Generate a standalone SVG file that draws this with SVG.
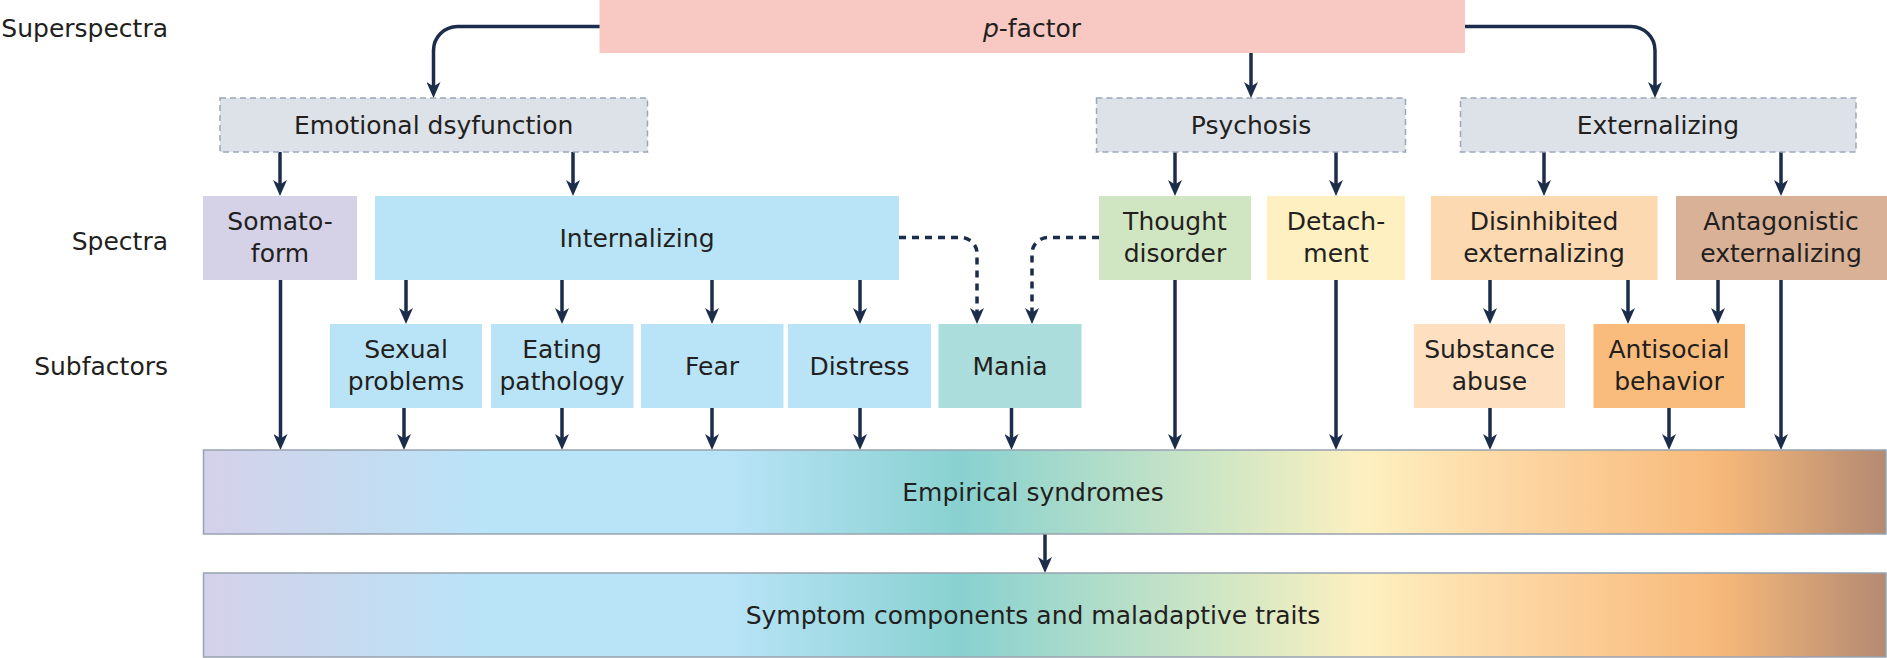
<svg xmlns="http://www.w3.org/2000/svg" width="1887" height="658" viewBox="0 0 1887 658">
<style>
text{font-family:"DejaVu Sans","Liberation Sans",sans-serif;font-size:25px;fill:#231f20;text-anchor:middle}
text.lbl{text-anchor:end}
.grp rect{fill:#dde1e8;stroke:#9ba6b8;stroke-width:1.5;stroke-dasharray:6 4}
.c{fill:none;stroke:#1b2d4b;stroke-width:3.5;marker-end:url(#ah)}
.d{stroke-dasharray:7 6}
.band{stroke:#98a2b0;stroke-width:1.5}
</style>
<defs>
<marker id="ah" markerUnits="userSpaceOnUse" viewBox="0 0 16 14" refX="5" refY="7" markerWidth="16" markerHeight="14" orient="auto">
<path d="M16,7 L0,0 L4.5,7 L0,14 Z" fill="#1b2d4b"/>
</marker>
<linearGradient id="spec" gradientUnits="userSpaceOnUse" x1="203" y1="0" x2="1886" y2="0">
<stop offset="0" stop-color="#d4d1e9"/>
<stop offset="0.17" stop-color="#b9e4f8"/>
<stop offset="0.31" stop-color="#b9e4f8"/>
<stop offset="0.45" stop-color="#88d1d0"/>
<stop offset="0.61" stop-color="#d3e7c4"/>
<stop offset="0.69" stop-color="#fdf0c0"/>
<stop offset="0.78" stop-color="#fdd6a2"/>
<stop offset="0.9" stop-color="#f7b97a"/>
<stop offset="1" stop-color="#b48a72"/>
</linearGradient>
</defs>
<rect width="1887" height="658" fill="#ffffff"/>

<g id="labels">
<text class="lbl" x="168" y="37">Superspectra</text>
<text class="lbl" x="168" y="250">Spectra</text>
<text class="lbl" x="168" y="375">Subfactors</text>
</g>

<g id="connectors">
<path class="c" d="M600,26.5 H457.5 A24,24 0 0 0 433.5,50.5 V87"/>
<path class="c" d="M1251,53 V87"/>
<path class="c" d="M1465,26.5 H1631 A24,24 0 0 1 1655,50.5 V87"/>
<path class="c" d="M280,152 V185"/>
<path class="c" d="M573,152 V185"/>
<path class="c" d="M1175,152 V185"/>
<path class="c" d="M1336,152 V185"/>
<path class="c" d="M1544,152 V185"/>
<path class="c" d="M1781,152 V185"/>
<path class="c" d="M280.5,280 V439"/>
<path class="c" d="M406,280 V313"/>
<path class="c" d="M562,280 V313"/>
<path class="c" d="M712,280 V313"/>
<path class="c" d="M860,280 V313"/>
<path class="c" d="M404,408 V439"/>
<path class="c" d="M562,408 V439"/>
<path class="c" d="M712,408 V439"/>
<path class="c" d="M860,408 V439"/>
<path class="c" d="M1011.5,408 V439"/>
<path class="c" d="M1175,280 V439"/>
<path class="c" d="M1336,280 V439"/>
<path class="c" d="M1490,280 V313"/>
<path class="c" d="M1628,280 V313"/>
<path class="c" d="M1718,280 V313"/>
<path class="c" d="M1781,280 V439"/>
<path class="c" d="M1490,408 V439"/>
<path class="c" d="M1669,408 V439"/>
<path class="c" d="M1045,534 V562"/>
<path class="c d" d="M899,237.5 H961 A16,16 0 0 1 977,253.5 V313"/>
<path class="c d" d="M1099,237.5 H1048 A16,16 0 0 0 1032,253.5 V313"/>
</g>

<g id="p-factor">
<rect x="599.5" y="0" width="865.5" height="53" fill="#f8c8c2"/>
<text x="1032" y="37"><tspan font-style="italic">p</tspan>-factor</text>
</g>

<g id="emotional-dysfunction" class="grp">
<rect x="220" y="98" width="427.5" height="54"/>
<text x="433.7" y="134">Emotional dsyfunction</text>
</g>
<g id="psychosis" class="grp">
<rect x="1096.5" y="98" width="309" height="54"/>
<text x="1251" y="134">Psychosis</text>
</g>
<g id="externalizing" class="grp">
<rect x="1460.5" y="98" width="395.5" height="54"/>
<text x="1658" y="134">Externalizing</text>
</g>

<g id="somatoform">
<rect x="203" y="196" width="154" height="84" fill="#d5d2e8"/>
<text x="280" y="230">Somato-</text>
<text x="280" y="262">form</text>
</g>
<g id="internalizing">
<rect x="375" y="196" width="524" height="84" fill="#b9e4f8"/>
<text x="637" y="247">Internalizing</text>
</g>
<g id="thought-disorder">
<rect x="1099" y="196" width="152" height="84" fill="#d0e6c2"/>
<text x="1175" y="230">Thought</text>
<text x="1175" y="262">disorder</text>
</g>
<g id="detachment">
<rect x="1267" y="196" width="138" height="84" fill="#fef0c0"/>
<text x="1336" y="230">Detach-</text>
<text x="1336" y="262">ment</text>
</g>
<g id="disinhibited-externalizing">
<rect x="1431" y="196" width="226.5" height="84" fill="#fdd9b2"/>
<text x="1544" y="230">Disinhibited</text>
<text x="1544" y="262">externalizing</text>
</g>
<g id="antagonistic-externalizing">
<rect x="1676" y="196" width="211" height="84" fill="#d9b196"/>
<text x="1781" y="230">Antagonistic</text>
<text x="1781" y="262">externalizing</text>
</g>

<g id="sexual-problems">
<rect x="330" y="324" width="152" height="84" fill="#b9e4f8"/>
<text x="406" y="358">Sexual</text>
<text x="406" y="390">problems</text>
</g>
<g id="eating-pathology">
<rect x="491" y="324" width="142.5" height="84" fill="#b9e4f8"/>
<text x="562" y="358">Eating</text>
<text x="562" y="390">pathology</text>
</g>
<g id="fear">
<rect x="641" y="324" width="142.5" height="84" fill="#b9e4f8"/>
<text x="712" y="375">Fear</text>
</g>
<g id="distress">
<rect x="788" y="324" width="143" height="84" fill="#b9e4f8"/>
<text x="859.5" y="375">Distress</text>
</g>
<g id="mania">
<rect x="938.5" y="324" width="143" height="84" fill="#acdddd"/>
<text x="1010" y="375">Mania</text>
</g>
<g id="substance-abuse">
<rect x="1414" y="324" width="151" height="84" fill="#fee0c0"/>
<text x="1489.5" y="358">Substance</text>
<text x="1489.5" y="390">abuse</text>
</g>
<g id="antisocial-behavior">
<rect x="1593.5" y="324" width="151.5" height="84" fill="#f9bc7d"/>
<text x="1669" y="358">Antisocial</text>
<text x="1669" y="390">behavior</text>
</g>

<g id="empirical-syndromes">
<rect class="band" x="203.5" y="450" width="1682.5" height="84" fill="url(#spec)"/>
<text x="1033" y="501">Empirical syndromes</text>
</g>
<g id="symptom-components">
<rect class="band" x="203.5" y="573" width="1682.5" height="84" fill="url(#spec)"/>
<text x="1033" y="624">Symptom components and maladaptive traits</text>
</g>
</svg>
